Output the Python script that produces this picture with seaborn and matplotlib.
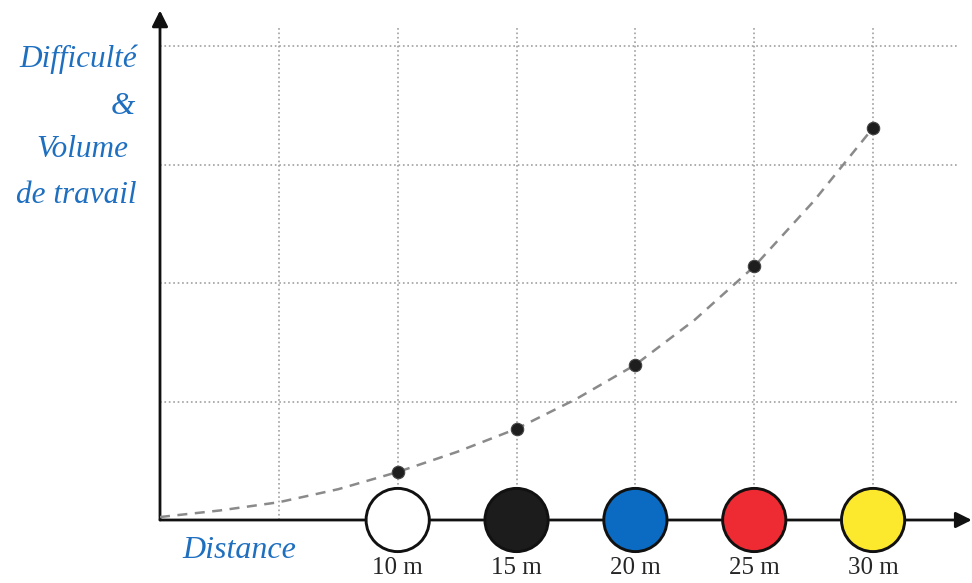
import seaborn as sns
import matplotlib.pyplot as plt

# dashed curve (distance in m, difficulty in grid units)
curve_dist = [0, 2.5, 5, 7.5, 10, 12.5, 15, 17.5, 20, 22.5, 25, 27.5, 30]
curve_val = [0.025, 0.08, 0.15, 0.26, 0.405, 0.575, 0.77, 1.02, 1.31, 1.69, 2.14, 2.69, 3.31]

# black points on the curve
point_dist = [10, 15, 20, 25, 30]
point_val = [0.405, 0.768, 1.31, 2.14, 3.31]

# coloured discs on the distance axis
disc_labels = ["10 m", "15 m", "20 m", "25 m", "30 m"]
disc_colors = ["#ffffff", "#1c1c1c", "#0b6bc2", "#ee2a32", "#fce82c"]

grid_x = [5, 10, 15, 20, 25, 30]
grid_y = [1, 2, 3, 4]

sns.set_style("white")
plt.rcParams["font.family"] = ["Liberation Serif", "DejaVu Serif"]
blue = "#1f6fc0"

fig = plt.figure(figsize=(9.72, 5.83), dpi=100)
ax = fig.add_axes([160 / 972, 63 / 583, 33.6 * 23.77 / 972, 4.15 * 118.5 / 583])
ax.set_xlim(0, 33.6)
ax.set_ylim(0, 4.15)
for s in ax.spines.values():
    s.set_visible(False)

ax.set_xticks(grid_x, [""] + disc_labels)
ax.set_yticks(grid_y, [])
ax.tick_params(length=0, labelsize=18, pad=27)
ax.grid(True, color="#a0a0a0", linestyle=":", linewidth=1.2)
ax.set_axisbelow(True)

# axes with arrow heads
arrow = dict(arrowstyle="-|>", lw=2, color="#111111", mutation_scale=24, shrinkA=0, shrinkB=0)
ax.annotate("", xy=(34.15, 0), xytext=(0, 0), arrowprops=arrow, annotation_clip=False)
ax.annotate("", xy=(0, 4.3), xytext=(0, 0), arrowprops=arrow, annotation_clip=False)

sns.lineplot(x=curve_dist, y=curve_val, ax=ax, color="#8a8a8a", linewidth=1.8,
             linestyle=(0, (4, 3)), zorder=4)
sns.scatterplot(x=point_dist, y=point_val, ax=ax, color="#1e1e1e", s=80,
                edgecolor="#444444", linewidth=0.8, zorder=6, clip_on=False)
sns.scatterplot(x=point_dist, y=[0] * len(point_dist), hue=disc_labels, palette=disc_colors,
                ax=ax, s=2070, edgecolor="#111111", linewidth=2.1, zorder=5,
                clip_on=False, legend=False)

ax.set_xlabel("")
ax.set_ylabel("")

ylab = [("Difficulté", 137, 67), ("&", 135, 114), ("Volume", 128, 157), ("de travail", 137, 203)]
for txt, px, py in ylab:
    fig.text(px / 972, 1 - py / 583, txt, ha="right", va="baseline", color=blue,
             fontsize=22.5, style="italic")
fig.text(182 / 972, 1 - 558 / 583, "Distance", ha="left", va="baseline", color=blue,
         fontsize=23, style="italic")

plt.savefig("out.png", dpi=100)
plt.close()
